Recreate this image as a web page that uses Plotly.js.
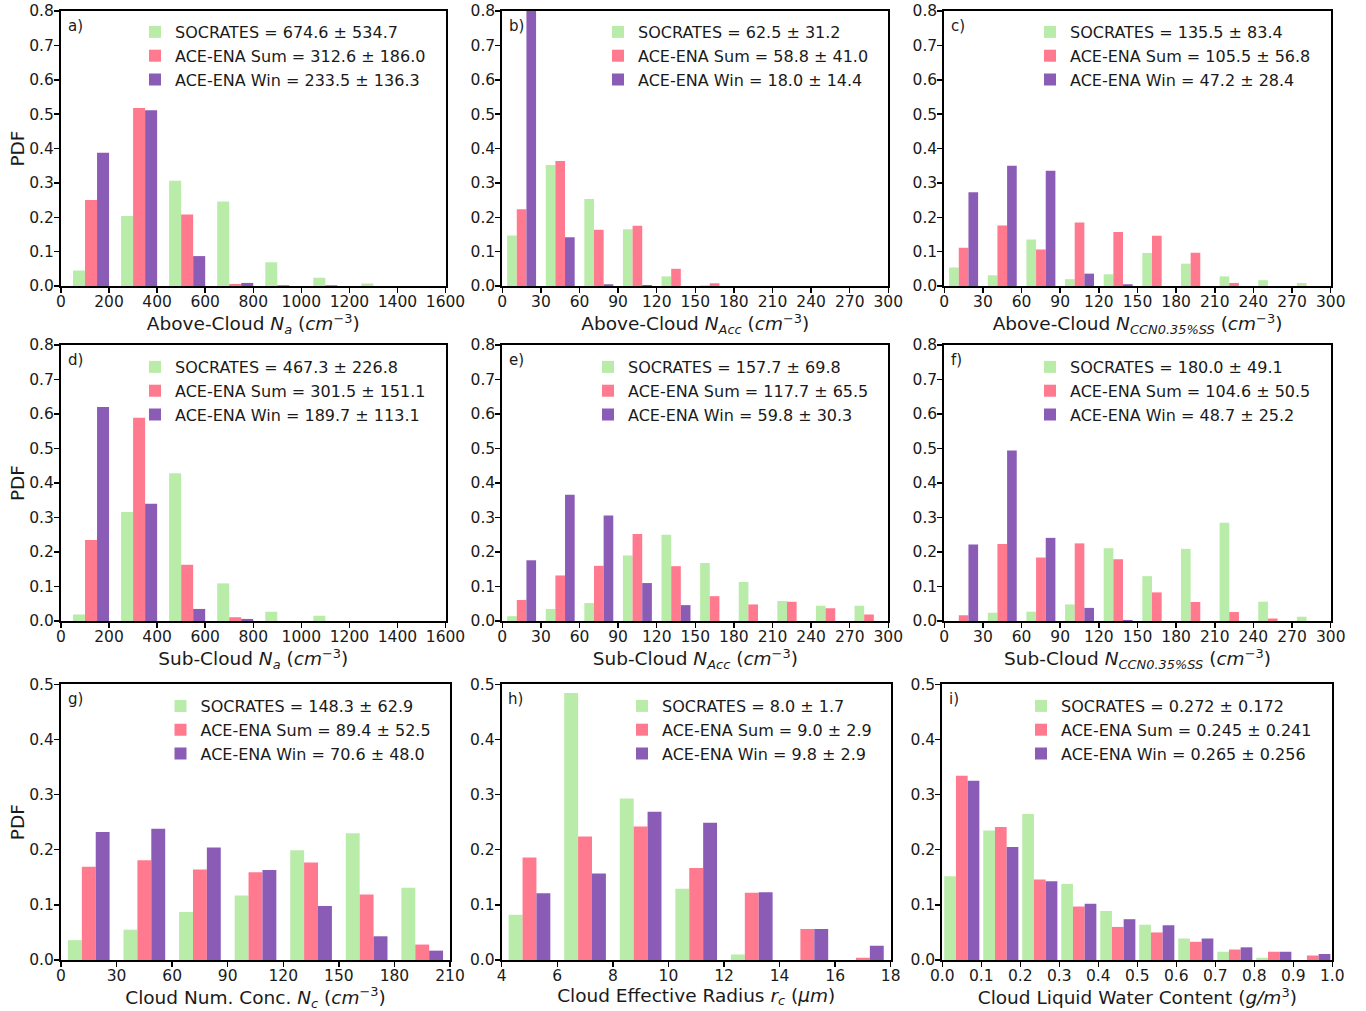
<!DOCTYPE html>
<html><head><meta charset="utf-8">
<script src="https://cdn.plot.ly/plotly-3.0.1.min.js"></script>
<style>html,body{margin:0;padding:0;background:#fff;} #chart{width:1366px;height:1011px;}</style>
</head><body><div id="chart"></div>
<script>
// ---------- DATA ----------
const seriesNames = ['SOCRATES', 'ACE-ENA Sum', 'ACE-ENA Win'];

// a) Above-cloud Na
const aBins = [125, 325, 525, 725, 925, 1125, 1325];
const aSoc = [0.045, 0.204, 0.306, 0.246, 0.069, 0.024, 0.007];
const aSum = [0.250, 0.518, 0.208, 0.006, 0.003, 0.003, 0.0];
const aWin = [0.388, 0.511, 0.087, 0.009, 0.0, 0.0, 0.0];
const aStats = ['674.6 ± 534.7', '312.6 ± 186.0', '233.5 ± 136.3'];

// b) Above-cloud NAcc
const bBins = [15, 45, 75, 105, 135, 165, 195, 225, 255, 285];
const bSoc = [0.147, 0.352, 0.253, 0.165, 0.028, 0.002, 0, 0, 0, 0];
const bSum = [0.223, 0.364, 0.164, 0.175, 0.050, 0.008, 0, 0, 0, 0];
const bWin = [0.81, 0.142, 0.005, 0.003, 0, 0, 0, 0, 0, 0];
const bStats = ['62.5 ± 31.2', '58.8 ± 41.0', '18.0 ± 14.4'];

// c) Above-cloud NCCN0.35%SS
const cBins = [15, 45, 75, 105, 135, 165, 195, 225, 255, 285];
const cSoc = [0.054, 0.031, 0.135, 0.020, 0.034, 0.096, 0.065, 0.028, 0.017, 0.009];
const cSum = [0.111, 0.176, 0.106, 0.185, 0.157, 0.146, 0.097, 0.009, 0, 0];
const cWin = [0.273, 0.350, 0.335, 0.036, 0.005, 0, 0, 0, 0, 0];
const cStats = ['135.5 ± 83.4', '105.5 ± 56.8', '47.2 ± 28.4'];

// d) Sub-cloud Na
const dBins = [125, 325, 525, 725, 925, 1125, 1325];
const dSoc = [0.019, 0.316, 0.428, 0.109, 0.027, 0.015, 0.0];
const dSum = [0.235, 0.589, 0.163, 0.011, 0.0, 0.0, 0.0];
const dWin = [0.620, 0.340, 0.035, 0.006, 0.0, 0.0, 0.0];
const dStats = ['467.3 ± 226.8', '301.5 ± 151.1', '189.7 ± 113.1'];

// e) Sub-cloud NAcc
const eBins = [15, 45, 75, 105, 135, 165, 195, 225, 255, 285];
const eSoc = [0.014, 0.035, 0.052, 0.190, 0.250, 0.168, 0.113, 0.058, 0.044, 0.044];
const eSum = [0.061, 0.132, 0.160, 0.252, 0.159, 0.072, 0.048, 0.056, 0.037, 0.019];
const eWin = [0.176, 0.366, 0.306, 0.110, 0.046, 0, 0, 0, 0, 0];
const eStats = ['157.7 ± 69.8', '117.7 ± 65.5', '59.8 ± 30.3'];

// f) Sub-cloud NCCN0.35%SS
const fBins = [15, 45, 75, 105, 135, 165, 195, 225, 255, 285];
const fSoc = [0.0, 0.024, 0.027, 0.048, 0.211, 0.130, 0.209, 0.285, 0.056, 0.012];
const fSum = [0.017, 0.223, 0.184, 0.225, 0.179, 0.083, 0.055, 0.026, 0.007, 0.0];
const fWin = [0.222, 0.494, 0.241, 0.038, 0.003, 0, 0, 0, 0, 0];
const fStats = ['180.0 ± 49.1', '104.6 ± 50.5', '48.7 ± 25.2'];

// g) Cloud number concentration Nc
const gBins = [15, 45, 75, 105, 135, 165, 195];
const gSoc = [0.036, 0.055, 0.087, 0.117, 0.199, 0.230, 0.131];
const gSum = [0.169, 0.181, 0.164, 0.159, 0.177, 0.119, 0.028];
const gWin = [0.232, 0.238, 0.204, 0.163, 0.098, 0.043, 0.017];
const gStats = ['148.3 ± 62.9', '89.4 ± 52.5', '70.6 ± 48.0'];

// h) Cloud effective radius rc
const hBins = [5, 7, 9, 11, 13, 15, 17];
const hSoc = [0.082, 0.484, 0.293, 0.129, 0.010, 0.0, 0.0];
const hSum = [0.186, 0.224, 0.242, 0.167, 0.122, 0.056, 0.004];
const hWin = [0.121, 0.157, 0.269, 0.249, 0.123, 0.056, 0.026];
const hStats = ['8.0 ± 1.7', '9.0 ± 2.9', '9.8 ± 2.9'];

// i) Cloud liquid water content
const iBins = [0.05, 0.15, 0.25, 0.35, 0.45, 0.55, 0.65, 0.75, 0.85, 0.95];
const iSoc = [0.152, 0.235, 0.265, 0.138, 0.089, 0.064, 0.039, 0.015, 0.004, 0.0];
const iSum = [0.334, 0.241, 0.146, 0.097, 0.060, 0.050, 0.033, 0.019, 0.015, 0.008];
const iWin = [0.325, 0.205, 0.143, 0.102, 0.074, 0.063, 0.039, 0.023, 0.015, 0.011];
const iStats = ['0.272 ± 0.172', '0.245 ± 0.241', '0.265 ± 0.256'];

// ---------- STYLE / LAYOUT ----------
const colors = ['#b9eca9', '#ff7a8f', '#8b5cb6'];
const W = 1366, H = 1011;
const FONT = 'DejaVu Sans, Verdana, sans-serif';

const panels = [
  {tag:'a)', bins:aBins, vals:[aSoc,aSum,aWin], stats:aStats, binW:200, frac:0.75, xr:[0,1600], dx:200, yr:[0,0.8],
   xt:'Above-Cloud <i>N<sub>a</sub></i> (<i>cm</i><sup>−3</sup>)', px:[61,445.5], py:[11,286], leg:[135,15], ytitle:true},
  {tag:'b)', bins:bBins, vals:[bSoc,bSum,bWin], stats:bStats, binW:30, frac:0.75, xr:[0,300], dx:30, yr:[0,0.8],
   xt:'Above-Cloud <i>N<sub>Acc</sub></i> (<i>cm</i><sup>−3</sup>)', px:[502.3,888.3], py:[11,286], leg:[598,15]},
  {tag:'c)', bins:cBins, vals:[cSoc,cSum,cWin], stats:cStats, binW:30, frac:0.75, xr:[0,300], dx:30, yr:[0,0.8],
   xt:'Above-Cloud <i>N<sub>CCN0.35%SS</sub></i> (<i>cm</i><sup>−3</sup>)', px:[944.3,1330.7], py:[11,286], leg:[1030,15]},
  {tag:'d)', bins:dBins, vals:[dSoc,dSum,dWin], stats:dStats, binW:200, frac:0.75, xr:[0,1600], dx:200, yr:[0,0.8],
   xt:'Sub-Cloud <i>N<sub>a</sub></i> (<i>cm</i><sup>−3</sup>)', px:[61,445.5], py:[345,621], leg:[135,350], ytitle:true},
  {tag:'e)', bins:eBins, vals:[eSoc,eSum,eWin], stats:eStats, binW:30, frac:0.75, xr:[0,300], dx:30, yr:[0,0.8],
   xt:'Sub-Cloud <i>N<sub>Acc</sub></i> (<i>cm</i><sup>−3</sup>)', px:[502.3,888.3], py:[345,621], leg:[588,350]},
  {tag:'f)', bins:fBins, vals:[fSoc,fSum,fWin], stats:fStats, binW:30, frac:0.75, xr:[0,300], dx:30, yr:[0,0.8],
   xt:'Sub-Cloud <i>N<sub>CCN0.35%SS</sub></i> (<i>cm</i><sup>−3</sup>)', px:[944.3,1330.7], py:[345,621], leg:[1030,350]},
  {tag:'g)', bins:gBins, vals:[gSoc,gSum,gWin], stats:gStats, binW:30, frac:0.75, xr:[0,210], dx:30, yr:[0,0.5],
   xt:'Cloud Num. Conc. <i>N<sub>c</sub></i> (<i>cm</i><sup>−3</sup>)', px:[61,450], py:[684.3,960], leg:[160.5,689], ytitle:true},
  {tag:'h)', bins:hBins, vals:[hSoc,hSum,hWin], stats:hStats, binW:2, frac:0.75, xr:[4,18], dx:2, yr:[0,0.5],
   xt:'Cloud Effective Radius <i>r<sub>c</sub></i> (<i>μm</i>)', px:[501.7,890.7], py:[684.3,960], leg:[622,689]},
  {tag:'i)', bins:iBins, vals:[iSoc,iSum,iWin], stats:iStats, binW:0.1, frac:0.9, xr:[0,1], dx:0.1, yr:[0,0.5],
   xt:'Cloud Liquid Water Content (<i>g/m</i><sup>3</sup>)', px:[942.3,1332.3], py:[684.3,960], leg:[1021,689], xfmt:'.1f'}
];

const data = [];
const layout = {
  width: W, height: H,
  margin: {l:0, r:0, t:0, b:0},
  paper_bgcolor: '#ffffff', plot_bgcolor: '#ffffff',
  font: {family: FONT, color: '#1a1a1a'},
  barmode: 'overlay',
  annotations: [],
  showlegend: true
};

panels.forEach((p, k) => {
  const n = k + 1;
  const sfx = n === 1 ? '' : String(n);
  const xa = 'x' + sfx, ya = 'y' + sfx;
  const legKey = n === 1 ? 'legend' : 'legend' + n;
  const w = p.binW * p.frac / 3;
  p.vals.forEach((v, s) => {
    data.push({
      type: 'bar', x: p.bins, y: v, xaxis: xa, yaxis: ya,
      width: w, offset: -1.5 * w + s * w,
      name: seriesNames[s] + ' = ' + p.stats[s],
      marker: {color: colors[s], line: {width: 0}},
      legend: legKey, hoverinfo: 'skip'
    });
  });
  const axCommon = {
    showline: true, mirror: true, linecolor: '#000', linewidth: 2,
    ticks: 'outside', ticklen: 5, tickwidth: 1.5, tickcolor: '#000',
    showgrid: false, zeroline: false,
    tickfont: {size: 15.5, family: FONT, color: '#1a1a1a'}
  };
  layout['xaxis' + sfx] = Object.assign({}, axCommon, {
    domain: [p.px[0] / W, p.px[1] / W], anchor: ya,
    range: p.xr, tick0: p.xr[0], dtick: p.dx, tickformat: p.xfmt || '',
    ticklabelstandoff: -5,
    title: {text: p.xt, font: {size: 18.5, family: FONT, color: '#1a1a1a'}, standoff: 2}
  });
  layout['yaxis' + sfx] = Object.assign({}, axCommon, {
    domain: [1 - p.py[1] / H, 1 - p.py[0] / H], anchor: xa,
    range: p.yr, tick0: 0, dtick: 0.1, tickformat: '.1f',
    ticklabelstandoff: -3,
    title: p.ytitle ? {text: 'PDF', font: {size: 18.5, family: FONT, color: '#1a1a1a'}, standoff: 0} : {text: ''}
  });
  layout[legKey] = {
    x: p.leg[0] / W, y: 1 - p.leg[1] / H, xanchor: 'left', yanchor: 'top',
    bgcolor: 'rgba(0,0,0,0)', borderwidth: 0,
    font: {size: 16, family: FONT, color: '#1a1a1a'},
    traceorder: 'normal', itemclick: false, itemdoubleclick: false
  };
  layout.annotations.push({
    text: p.tag, xref: xa + ' domain', yref: ya + ' domain',
    x: 0.012, y: 0.985, xanchor: 'left', yanchor: 'top', showarrow: false,
    font: {size: 15, family: FONT, color: '#1a1a1a'}
  });
});

Plotly.newPlot('chart', data, layout, {displayModeBar: false, staticPlot: true});
</script>
</body></html>
